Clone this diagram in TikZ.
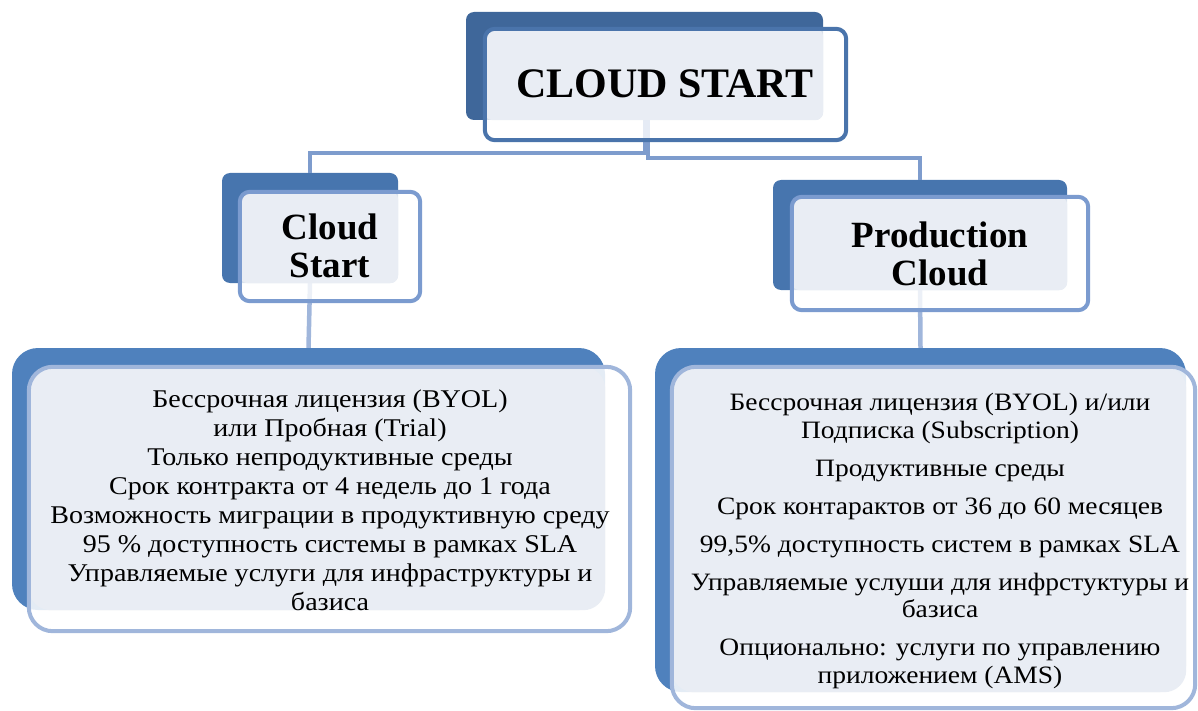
\documentclass[tikz,border=0pt]{standalone}
\usepackage{fontspec}
\setmainfont{Liberation Serif}
\newfontfamily\bodyfont[FakeStretch=1.1]{Liberation Serif}
\definecolor{darkA}{HTML}{3F679A}
\definecolor{darkB}{HTML}{4775AE}
\definecolor{darkC}{HTML}{4F81BD}
\definecolor{lineA}{HTML}{4A74AB}
\definecolor{lineB}{HTML}{7B9BCF}
\definecolor{lineC}{HTML}{A0B6DB}
\definecolor{lightfill}{HTML}{E9EDF4}
\definecolor{conn}{HTML}{7E9CCD}
\tikzset{
  backbox/.style={rectangle, fill=#1, draw=none, inner sep=0pt},
  frontbox/.style={rectangle, fill=white, draw=none, inner sep=0pt},
  outline/.style={draw=#1, line width=4pt},
  conline/.style={draw=conn, line width=4.5pt},
  head/.style={font=\bfseries\fontsize{37}{38}\selectfont, align=center, inner sep=0pt},
  body/.style={font=\bodyfont\fontsize{25.5}{29}\selectfont, align=center, inner sep=0pt},
}
\begin{document}
\begin{tikzpicture}[x=1pt,y=-1pt]
\useasboundingbox (0,0) rectangle (1198,711);
\clip (0,0) rectangle (1198,711);
% ---------- back boxes ----------
\node[backbox=darkA, rounded corners=8pt, minimum width=357pt, minimum height=108pt] (tb) at (644.5,66) {};
\node[backbox=darkB, rounded corners=8pt, minimum width=176pt, minimum height=110pt] (lb) at (310,228) {};
\node[backbox=darkB, rounded corners=8pt, minimum width=294pt, minimum height=110pt] (rb) at (920,235) {};
\node[backbox=darkC, rounded corners=26pt, minimum width=593pt, minimum height=262pt] (blb) at (308.5,479) {};
\node[backbox=darkC, rounded corners=26pt, minimum width=531pt, minimum height=344pt] (brb) at (920.5,520) {};
% ---------- connectors ----------
\coordinate (hl) at (645,153);
\coordinate (hr) at (648,158);
\draw[conline] (645,120) -- (hl) -| (lb.north);
\draw[conline] (648,120) -- (hr) -| (rb.north);
\draw[conline, draw=lineC] (lb.south) -- (blb.north);
\draw[conline, draw=lineC] (920,290) -- (brb.north);
% ---------- front boxes ----------
\node[frontbox, opacity=0.8, rounded corners=10pt, minimum width=361pt, minimum height=111pt] (tf) at (665.5,84.5) {};
\node[frontbox, opacity=0.8, rounded corners=10pt, minimum width=180pt, minimum height=109pt] (lf) at (330,246.5) {};
\node[frontbox, opacity=0.8, rounded corners=10pt, minimum width=296pt, minimum height=113pt] (rf) at (940,253.5) {};
\node[frontbox, opacity=0.85, rounded corners=24pt, minimum width=601pt, minimum height=264pt] (blf) at (329.5,499) {};
\node[frontbox, opacity=0.85, rounded corners=24pt, minimum width=523pt, minimum height=341pt] (brf) at (933.5,537.5) {};
% ---------- light overlap fills ----------
\fill[lightfill, rounded corners=8pt] (tf.north west) rectangle (tb.south east);
\fill[lightfill, rounded corners=8pt] (lf.north west) rectangle (lb.south east);
\fill[lightfill, rounded corners=8pt] (rf.north west) rectangle (rb.south east);
\fill[lightfill, rounded corners=22pt] (blf.north west) rectangle (blb.south east);
\fill[lightfill, rounded corners=22pt] (brf.north west) rectangle (brb.south east);
% ---------- outlines ----------
\draw[outline=lineA, rounded corners=10pt] (tf.north west) rectangle (tf.south east);
\draw[outline=lineB, rounded corners=10pt] (lf.north west) rectangle (lf.south east);
\draw[outline=lineB, rounded corners=10pt] (rf.north west) rectangle (rf.south east);
\draw[outline=lineC, rounded corners=24pt] (blf.north west) rectangle (blf.south east);
\draw[outline=lineC, rounded corners=24pt] (brf.north west) rectangle (brf.south east);
% ---------- texts ----------
\node[head, font=\bfseries\fontsize{42}{44}\selectfont] (tt) at (665,84) {CLOUD START};
\node[head] (lt) at (330,246) {Cloud\\Start};
\node[head] (rt) at (940,254) {Production\\Cloud};
\node[body] (blt) at (330,500) {Бессрочная лицензия (BYOL)\\или Пробная (Trial)\\Только непродуктивные среды\\Срок контракта от 4 недель до 1 года\\Возможность миграции в продуктивную среду\\95 \% доступность системы в рамках SLA\\Управляемые услуги для инфраструктуры и\\базиса};
\node[body, font=\bodyfont\fontsize{25}{27.5}\selectfont] (brt) at (940,541) {Бессрочная лицензия (BYOL) и/или\\Подписка (Subscription)\\[10.5pt]Продуктивные среды\\[10.5pt]Срок контарактов от 36 до 60 месяцев\\[10.5pt]99,5\% доступность систем в рамках SLA\\[10.5pt]Управляемые услуши для инфрстуктуры и\\базиса\\[10.5pt]Опционально: услуги по управлению\\приложением (AMS)};
\end{tikzpicture}
\end{document}
